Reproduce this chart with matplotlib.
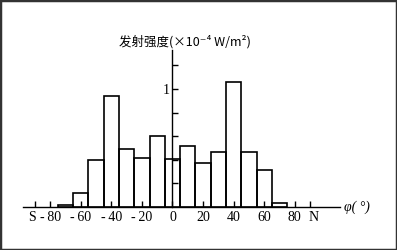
import matplotlib.pyplot as plt
import matplotlib.transforms as mtransforms
from matplotlib.patches import Rectangle

# latitude bins (centre, deg) and emission intensity (x1e-4 W/m^2)
lat = [-70, -60, -50, -40, -30, -20, -10, 0, 10, 20, 30, 40, 50, 60, 70]
intensity = [0.02, 0.12, 0.40, 0.94, 0.49, 0.415, 0.60, 0.41, 0.52, 0.37,
             0.47, 1.06, 0.47, 0.31, 0.03]

xticks = [-90, -80, -60, -40, -20, 0, 20, 40, 60, 80, 90]
xlabels = ["S", "-\u200980", "-\u200960", "-\u200940", "-\u200920",
           "0", "20", "40", "60", "80", "N"]
yticks = [0.2, 0.4, 0.6, 0.8, 1.0, 1.2]
ylabels = ["", "", "", "", "1", ""]

serif = ["Liberation Serif", "DejaVu Serif"]

fig = plt.figure(figsize=(3.97, 2.5), dpi=100)
ax = fig.add_axes([23 / 397, 43 / 250, 317 / 397, 157 / 250])

ax.bar(lat, intensity, width=10, fill=False, edgecolor="black", linewidth=1.2)

ax.set_xlim(-97.7, 109.5)
ax.set_ylim(0, 1.33)

for s in ["top", "right"]:
    ax.spines[s].set_visible(False)
ax.spines["left"].set_position(("data", 0))
ax.spines["left"].set_linewidth(1.0)
ax.spines["bottom"].set_linewidth(1.0)

ax.set_xticks(xticks)
ax.set_xticklabels(xlabels, fontfamily=serif, fontsize=10)
ax.set_yticks(yticks)
ax.set_yticklabels(ylabels, fontfamily=serif, fontsize=10)
ax.tick_params(axis="x", direction="in", length=4, width=1, pad=3)
ax.tick_params(axis="y", direction="in", length=4, width=1, pad=2)

# nudge S and N apart from their neighbours
labels = ax.get_xticklabels()
labels[0].set_transform(labels[0].get_transform() +
                        mtransforms.ScaledTranslation(-3 / 100, 0, fig.dpi_scale_trans))
labels[-1].set_transform(labels[-1].get_transform() +
                         mtransforms.ScaledTranslation(3 / 100, 0, fig.dpi_scale_trans))

fig.text(185 / 397, 1 - 42 / 250, "发射强度(×10⁻⁴ W/m²)",
         family=["Noto Sans CJK SC", "DejaVu Sans"], fontsize=9,
         ha="center", va="center")
fig.text(344 / 397, 1 - 207 / 250, "φ( °)", family=serif, style="italic",
         fontsize=10, ha="left", va="center")

fig.add_artist(Rectangle((0, 0), 1, 1, transform=fig.transFigure,
                         fill=False, edgecolor="#333333", linewidth=2.5))

fig.savefig("out.png", dpi=100)
